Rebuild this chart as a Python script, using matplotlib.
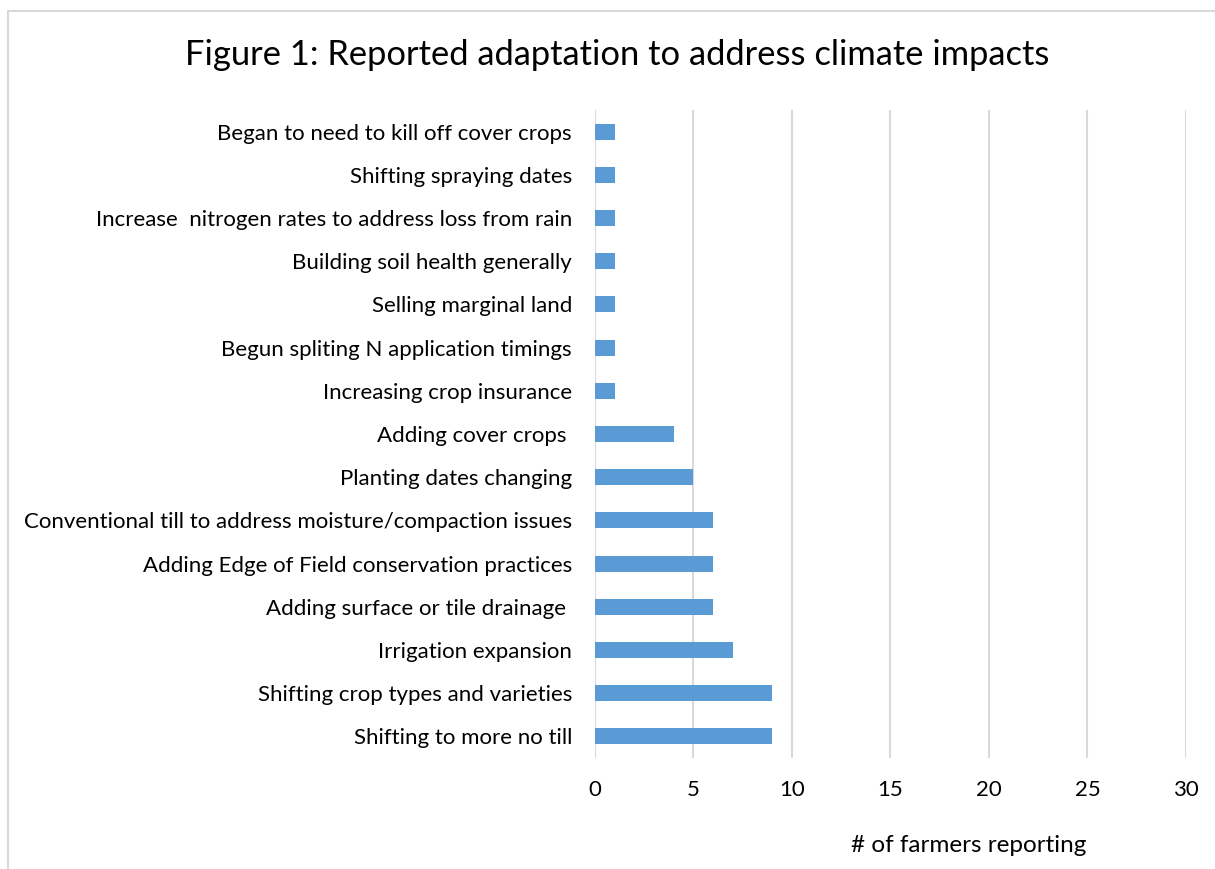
import matplotlib.pyplot as plt
from matplotlib.patches import Rectangle

# responses, listed bottom to top
practices = [
    'Shifting to more no till',
    'Shifting crop types and varieties',
    'Irrigation expansion',
    'Adding surface or tile drainage ',
    'Adding Edge of Field conservation practices',
    'Conventional till to address moisture/compaction issues',
    'Planting dates changing',
    'Adding cover crops ',
    'Increasing crop insurance',
    'Begun spliting N application timings',
    'Selling marginal land',
    'Building soil health generally',
    'Increase  nitrogen rates to address loss from rain',
    'Shifting spraying dates',
    'Began to need to kill off cover crops',
]
farmers = [9, 9, 7, 6, 6, 6, 5, 4, 1, 1, 1, 1, 1, 1, 1]
xticks = [0, 5, 10, 15, 20, 25, 30]

plt.rcParams['font.family'] = ['Lato', 'DejaVu Sans']
fig = plt.figure(figsize=(12.15, 8.69), dpi=100)
ax = fig.add_axes([0.4897, 0.1277, 0.4864, 0.7457])

# chart frame, only top and left edges show
fig.patches.append(Rectangle((8 / 1215, -0.2), 1.5, 1 - 11 / 869 + 0.2,
                             transform=fig.transFigure, fill=False,
                             edgecolor='#d9d9d9', linewidth=1.5))

ypos = list(range(len(practices)))
ax.barh(ypos, farmers, height=0.37, color='#5b9bd5', zorder=3)

ax.set_xlim(0, 30)
ax.set_ylim(-0.5, len(practices) - 0.5)
ax.set_xticks(xticks)
ax.set_xticklabels([str(t) for t in xticks])
ax.set_yticks(ypos)
ax.set_yticklabels(practices)
ax.tick_params(axis='both', length=0, labelsize=16, colors='#000000')
ax.tick_params(axis='x', pad=16)
ax.tick_params(axis='y', pad=16.5)
for s in ax.spines.values():
    s.set_visible(False)
ax.grid(axis='x', color='#d9d9d9', linewidth=1.5, zorder=0)
ax.set_axisbelow(True)

fig.text(617 / 1215, 1 - 55 / 869, 'Figure 1: Reported adaptation to address climate impacts',
         ha='center', va='center', fontsize=24.8)
fig.text(969 / 1215, 1 - 845 / 869, '# of farmers reporting',
         ha='center', va='center', fontsize=17.5)

fig.savefig('out.png', dpi=100, facecolor='white')
